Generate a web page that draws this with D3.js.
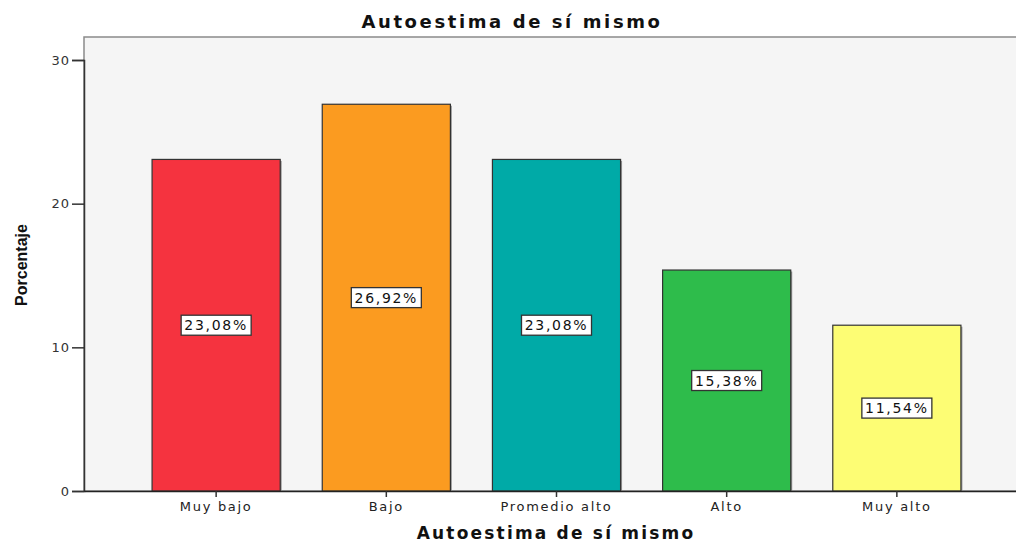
<!DOCTYPE html>
<html>
<head>
<meta charset="utf-8">
<script src="https://cdn.jsdelivr.net/npm/d3@7"></script>
<style>
  body { margin: 0; background: #fff; }
  svg { display: block; font-family: "DejaVu Sans", sans-serif; }
</style>
</head>
<body>
<script>
const categories = ["Muy bajo", "Bajo", "Promedio alto", "Alto", "Muy alto"];
const values = [23.08, 26.92, 23.08, 15.38, 11.54];
const labels = ["23,08%", "26,92%", "23,08%", "15,38%", "11,54%"];
const colors = ["#f5333f", "#fb9b20", "#00aaa7", "#2ebc4b", "#fdfd74"];
const yTicks = [0, 10, 20, 30];

const W = 1016, H = 542;
const plotLeft = 84, plotTop = 37, plotRight = 1029, plotBottom = 491;

const svg = d3.select("body").append("svg")
    .attr("width", W)
    .attr("height", H);

// plot background
svg.append("rect")
    .attr("x", plotLeft).attr("y", plotTop)
    .attr("width", plotRight - plotLeft).attr("height", plotBottom - plotTop)
    .attr("fill", "#f5f5f5")
    .attr("stroke", "#8a8a8a")
    .attr("stroke-width", 1.5);

const x = d3.scaleBand()
    .domain(categories)
    .range([plotLeft, plotRight])
    .paddingInner(0.247)
    .paddingOuter(0.4);

const y = d3.scaleLinear()
    .domain([0, 30])
    .range([plotBottom, 60]);

const data = categories.map((c, i) => ({cat: c, value: values[i], label: labels[i], color: colors[i]}));

// bars (faint shadow behind, like SPSS)
svg.selectAll(".shadow")
  .data(data)
  .enter().append("rect")
    .attr("x", d => x(d.cat) + 1.5)
    .attr("y", d => y(d.value) + 1.5)
    .attr("width", x.bandwidth())
    .attr("height", d => plotBottom - y(d.value) - 1.5)
    .attr("fill", "#9a9a9a");

svg.selectAll(".bar")
  .data(data)
  .enter().append("rect")
    .attr("class", "bar")
    .attr("x", d => x(d.cat))
    .attr("y", d => y(d.value))
    .attr("width", x.bandwidth())
    .attr("height", d => plotBottom - y(d.value))
    .attr("fill", d => d.color)
    .attr("stroke", "#333")
    .attr("stroke-width", 1.2);

// y axis
svg.append("g")
    .attr("transform", "translate(" + plotLeft + ",0)")
    .call(d3.axisLeft(y).tickValues(yTicks).tickSize(12).tickPadding(2))
    .call(g => g.select(".domain").attr("stroke", "#333").attr("stroke-width", 1.5))
    .call(g => g.selectAll(".tick line").attr("stroke", "#333").attr("stroke-width", 1.5))
    .call(g => g.selectAll("text").attr("fill", "#333").style("font-size", "13px")
        .style("letter-spacing", "1px")
        .style("font-family", "DejaVu Sans, sans-serif"));

// x axis
svg.append("g")
    .attr("transform", "translate(0," + plotBottom + ")")
    .call(d3.axisBottom(x).tickSize(6).tickPadding(5).tickSizeOuter(0))
    .call(g => g.select(".domain").attr("stroke", "#222").attr("stroke-width", 1.5))
    .call(g => g.selectAll(".tick line").attr("stroke", "#333").attr("stroke-width", 1.5))
    .call(g => g.selectAll("text").attr("fill", "#222").style("font-size", "13px")
        .style("letter-spacing", "1.7px")
        .style("font-family", "DejaVu Sans, sans-serif"));

// value labels
const lab = svg.selectAll(".lab")
  .data(data)
  .enter().append("g")
    .attr("transform", d => "translate(" + (x(d.cat) + x.bandwidth() / 2) + "," + y(d.value / 2) + ")");

lab.append("rect")
    .attr("x", -35).attr("y", -10)
    .attr("width", 70).attr("height", 20)
    .attr("fill", "#fff")
    .attr("stroke", "#333")
    .attr("stroke-width", 1.3);

lab.append("text")
    .attr("text-anchor", "middle")
    .attr("dy", "0.36em")
    .style("font-size", "14px")
    .style("letter-spacing", "1.7px")
    .attr("fill", "#111")
    .text(d => d.label);

// titles
svg.append("text")
    .attr("x", 512).attr("y", 28)
    .attr("text-anchor", "middle")
    .style("font-size", "18px")
    .style("font-weight", "bold")
    .style("letter-spacing", "2.6px")
    .attr("fill", "#111")
    .text("Autoestima de sí mismo");

svg.append("text")
    .attr("x", 556).attr("y", 539)
    .attr("text-anchor", "middle")
    .style("font-size", "17px")
    .style("font-weight", "bold")
    .style("letter-spacing", "2.2px")
    .attr("fill", "#111")
    .text("Autoestima de sí mismo");

svg.append("text")
    .attr("transform", "translate(27,265) rotate(-90)")
    .attr("text-anchor", "middle")
    .style("font-size", "16px")
    .style("font-weight", "bold")
    .style("font-family", "'Liberation Sans Narrow', 'Liberation Sans', Arial, sans-serif")
    .attr("fill", "#111")
    .text("Porcentaje");
</script>
</body>
</html>
